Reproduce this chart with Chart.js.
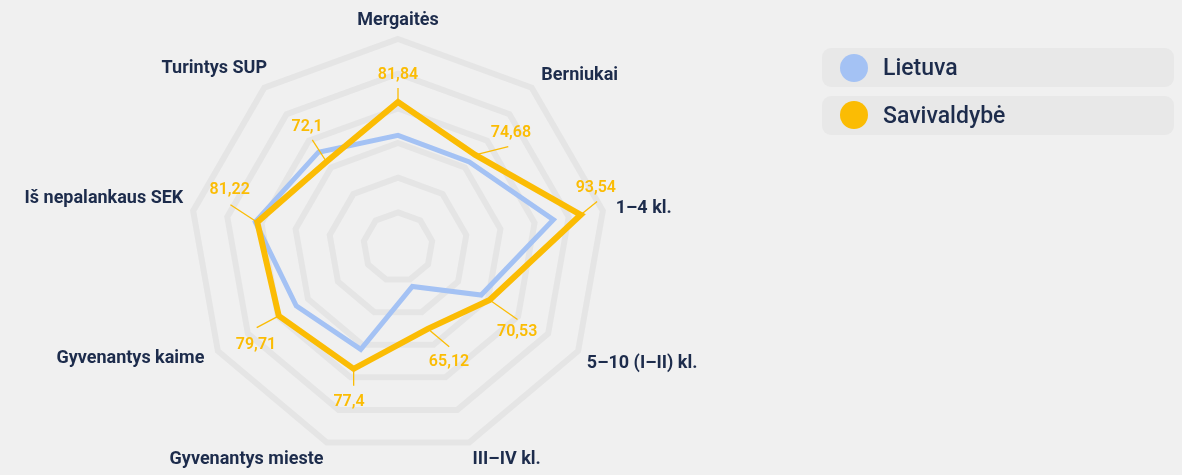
<!DOCTYPE html>
<html><head><meta charset="utf-8">
<script src="https://cdn.jsdelivr.net/npm/chart.js@4"></script>
<style>
html,body{margin:0;padding:0;background:#f0f0f0;width:1182px;height:475px;overflow:hidden;font-family:Roboto,sans-serif;}
#wrap{position:absolute;left:-60px;top:0;width:916px;height:475px;}
#legend{position:absolute;left:822px;top:48px;width:352px;z-index:2;}
.item{height:39px;border-radius:9px;background:#e8e8e8;margin-bottom:8.5px;position:relative;}
.dot{position:absolute;left:18px;top:5.5px;width:28px;height:28px;border-radius:50%;}
.txt{position:absolute;left:61px;top:0;line-height:39px;font-size:23px;font-weight:500;color:#1d2c4c;}
</style></head>
<body>
<div id="wrap"><canvas id="c"></canvas></div>
<div id="legend"></div>
<script>
const categories = ['Mergaitės','Berniukai','1–4 kl.','5–10 (I–II) kl.','III–IV kl.','Gyvenantys mieste','Gyvenantys kaime','Iš nepalankaus SEK','Turintys SUP'];
const seriesNames = ['Lietuva','Savivaldybė'];
const lietuva = [72.2, 72.0, 85.5, 67.7, 52.1, 71.4, 73.9, 81.8, 75.7];
const savivaldybe = [81.84, 74.68, 93.54, 70.53, 65.12, 77.4, 79.71, 81.22, 72.1];
const scaleMin = 40, scaleMax = 100, scaleStep = 10;

const colors = ['#a4c2f4', '#fbbc04'];

// per-label placement of the axis (point) labels
const pointLabelPad = [10, 15, 13, 10, 10, 10, 15.5, 10, -4.3];
const pointLabelLH  = [0.944, 0.05, 0.01, 0.78, 0.9, 0.9, 0.01, 1.23, 2.52];

const valueLabels = {
  id: 'valueLabels',
  afterDatasetsDraw(chart, args, opts) {
    const ctx = chart.ctx;
    const meta = chart.getDatasetMeta(opts.datasetIndex);
    const values = chart.data.datasets[opts.datasetIndex].data;
    const rad = Math.PI / 180;
    ctx.save();
    meta.data.forEach((pt, i) => {
      const la = opts.lineAngle[i] * rad, ll = opts.lineLen[i];
      const ta = opts.textAngle[i] * rad, td = opts.textDist[i];
      ctx.strokeStyle = opts.color;
      ctx.lineWidth = 1.3;
      ctx.beginPath();
      ctx.moveTo(pt.x, pt.y);
      ctx.lineTo(pt.x + Math.sin(la) * ll, pt.y - Math.cos(la) * ll);
      ctx.stroke();
      ctx.fillStyle = opts.color;
      ctx.font = '600 16px Roboto';
      ctx.textAlign = 'center';
      ctx.textBaseline = 'middle';
      ctx.fillText(String(values[i]).replace('.', ','), pt.x + Math.sin(ta) * td, pt.y - Math.cos(ta) * td);
    });
    ctx.restore();
  }
};

const chart = new Chart(document.getElementById('c'), {
  type: 'radar',
  data: {
    labels: categories,
    datasets: [
      { label: seriesNames[0], data: lietuva, borderColor: colors[0], backgroundColor: colors[0], borderWidth: 5, fill: false, pointRadius: 0, pointHoverRadius: 0, order: 1 },
      { label: seriesNames[1], data: savivaldybe, borderColor: colors[1], backgroundColor: colors[1], borderWidth: 6, fill: false, pointRadius: 0, pointHoverRadius: 0, order: 0 }
    ]
  },
  options: {
    responsive: true,
    maintainAspectRatio: false,
    animation: false,
    devicePixelRatio: 1,
    layout: { padding: { top: 5, bottom: 0, left: 0, right: 0 } },
    elements: { line: { tension: 0, borderJoinStyle: 'miter' } },
    scales: {
      r: {
        min: scaleMin, max: scaleMax,
        ticks: { display: false, stepSize: scaleStep },
        grid: { color: '#e5e5e5', lineWidth: 6 },
        angleLines: { display: false },
        pointLabels: {
          font: (ctx) => ({ family: 'Roboto', size: 18, weight: 'bold', lineHeight: pointLabelLH[ctx.index] }),
          padding: (ctx) => pointLabelPad[ctx.index],
          color: '#1d2c4c'
        }
      }
    },
    plugins: {
      legend: { display: false },
      tooltip: { enabled: false },
      valueLabels: {
        datasetIndex: 1,
        color: '#fbbc04',
        lineAngle: [0, 76, 51, 125, 130, 180, 242, 303, 327],
        lineLen:   [14, 34, 21, 34, 28, 17, 25, 32, 26],
        textAngle: [0, 58, 29, 139, 147, 188, 218, 319, 331],
        textDist:  [27, 42, 31, 42, 39, 33, 37, 42, 40]
      }
    }
  },
  plugins: [valueLabels]
});

const legendEl = document.getElementById('legend');
chart.data.datasets.forEach((ds) => {
  const item = document.createElement('div');
  item.className = 'item';
  const dot = document.createElement('div');
  dot.className = 'dot';
  dot.style.background = ds.borderColor;
  const txt = document.createElement('div');
  txt.className = 'txt';
  txt.textContent = ds.label;
  item.appendChild(dot); item.appendChild(txt);
  legendEl.appendChild(item);
});
</script>
</body></html>
